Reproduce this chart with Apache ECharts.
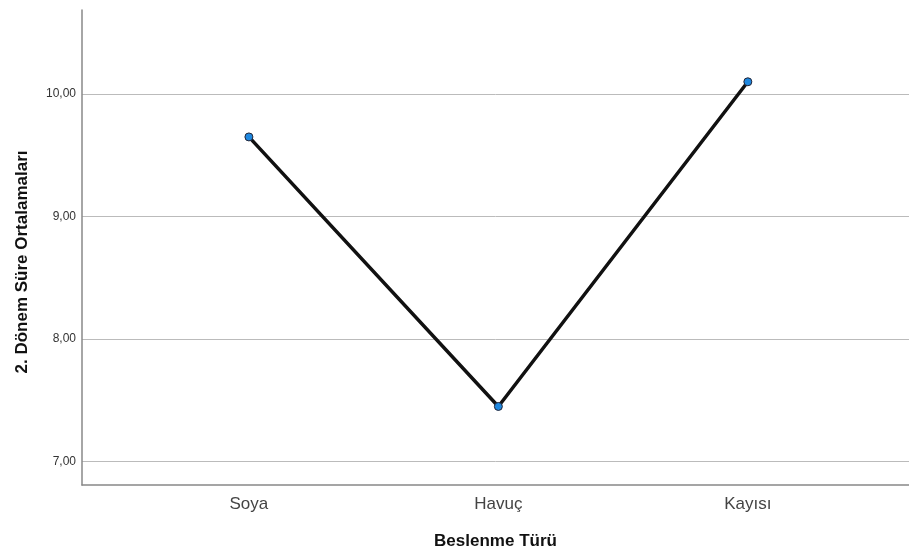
<!DOCTYPE html>
<html><head><meta charset="utf-8">
<script src="https://cdn.jsdelivr.net/npm/echarts@6/dist/echarts.min.js"></script>
<style>html,body{margin:0;padding:0;background:#fff}#c{width:909px;height:554px}</style>
</head><body><div id="c"></div>
<script>
const categories = ['Soya', 'Havuç', 'Kayısı'];
const means = [9.65, 7.45, 10.10];
const yTicks = [7, 8, 9, 10];
const yTitle = '2. Dönem Süre Ortalamaları';
const xTitle = 'Beslenme Türü';

const chart = echarts.init(document.getElementById('c'));
const font = 'Liberation Sans, Arial, sans-serif';
chart.setOption({
  animation: false,
  grid: { left: 82, right: 0, top: 10, bottom: 69, containLabel: false, outerBoundsMode: 'none' },
  graphic: [{
    type: 'text', x: 22, y: 262, rotation: Math.PI / 2,
    style: { text: yTitle, fontWeight: 'bold', fontSize: 17, fill: '#111', fontFamily: font, align: 'center', verticalAlign: 'middle' }
  }],
  xAxis: {
    type: 'value', min: -0.669, max: 2.646,
    axisLine: { show: true, onZero: false, lineStyle: { color: '#888', width: 1.5 } },
    axisTick: { show: false },
    splitLine: { show: false },
    axisLabel: { customValues: [0, 1, 2], formatter: v => categories[Math.round(v)] || '', color: '#444', fontSize: 17, fontFamily: font, margin: 11 },
    name: xTitle, nameLocation: 'middle', nameGap: 48,
    nameTextStyle: { fontWeight: 'bold', fontSize: 17, color: '#111', fontFamily: font }
  },
  yAxis: {
    type: 'value', min: 6.809, max: 10.686,
    axisLine: { show: true, onZero: false, lineStyle: { color: '#888', width: 1.5 } },
    axisTick: { show: false, customValues: yTicks },
    splitLine: { show: true, lineStyle: { color: '#bbb', width: 1 } },
    axisLabel: { customValues: yTicks, formatter: v => v.toFixed(2).replace('.', ','), color: '#333', fontSize: 12, fontFamily: font, margin: 6 }
  },
  series: [{
    type: 'line',
    data: means.map((v, i) => [i, v]),
    lineStyle: { color: '#111', width: 3.5 },
    symbol: 'circle', symbolSize: 8,
    itemStyle: { color: '#1e88e0', borderColor: '#223', borderWidth: 1 }
  }]
});
</script></body></html>
